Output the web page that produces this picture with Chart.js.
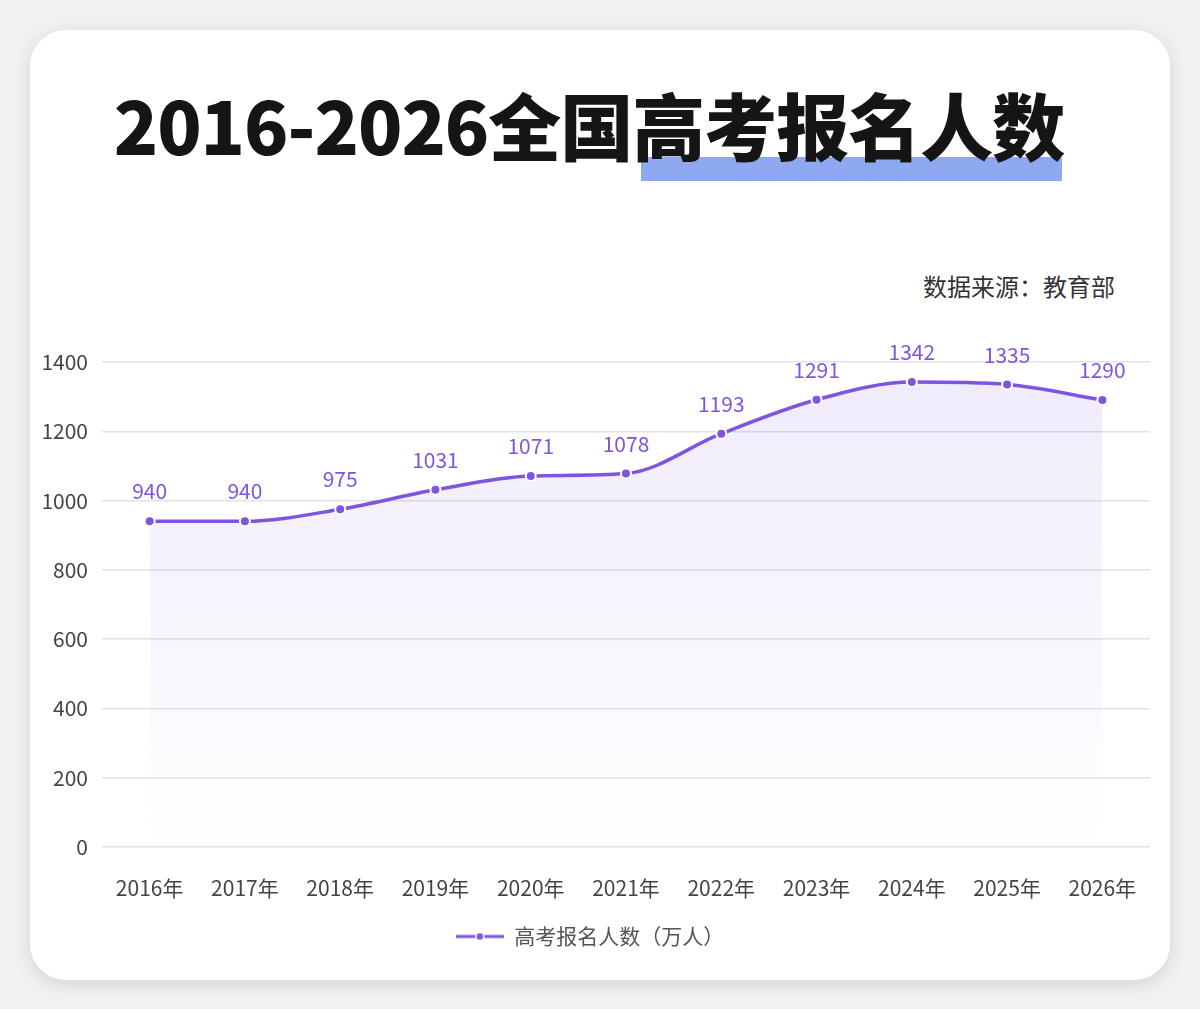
<!DOCTYPE html>
<html><head><meta charset="utf-8">
<script src="https://cdn.jsdelivr.net/npm/chart.js@4"></script>
<style>
html,body{margin:0;padding:0;width:1200px;height:1009px;background:#f1f1f1;overflow:hidden;font-family:"Noto Sans CJK SC","Noto Sans",sans-serif;}
#card{position:absolute;left:30px;top:30px;width:1140px;height:950px;background:#fff;border-radius:36px;box-shadow:0 4px 18px rgba(0,0,0,0.12);}
#bar{position:absolute;left:641px;top:157px;width:421px;height:24px;background:#8fa8f2;}
#title{position:absolute;left:0;top:68px;width:1178px;text-align:center;font-size:73px;font-weight:900;color:#151515;line-height:110px;letter-spacing:-1px;white-space:nowrap;}
#source{position:absolute;right:85px;top:268px;font-size:24px;color:#333;}
#wrap{position:absolute;left:30px;top:250px;width:1140px;height:720px;}
</style></head>
<body>
<div id="card"></div>
<div id="bar"></div>
<div id="title">2016-2026全国高考报名人数</div>
<div id="source">数据来源：教育部</div>
<div id="wrap"><canvas id="c" width="1140" height="720"></canvas></div>
<script>
const categories = ["2016年","2017年","2018年","2019年","2020年","2021年","2022年","2023年","2024年","2025年","2026年"];
const seriesName = "高考报名人数（万人）";
const values = [940,940,975,1031,1071,1078,1193,1291,1342,1335,1290];
const yTicks = [0,200,400,600,800,1000,1200,1400];

const purple = "#7d55e0";
const FONT = '"Noto Sans CJK SC","Noto Sans",sans-serif';

// legend marker: line with dot
const mk = document.createElement('canvas');
mk.width = 48; mk.height = 12;
(function(){const g=mk.getContext('2d');g.strokeStyle=purple;g.lineWidth=3;g.beginPath();g.moveTo(0,6);g.lineTo(48,6);g.stroke();g.fillStyle=purple;g.beginPath();g.arc(24,6,4,0,Math.PI*2);g.fill();g.strokeStyle='#fff';g.lineWidth=1.5;g.stroke();})();

const labelPlugin = {
  id:'valueLabels',
  afterDatasetsDraw(chart){
    const ctx = chart.ctx;
    const meta = chart.getDatasetMeta(0);
    ctx.save();
    ctx.font = '21px ' + FONT;
    ctx.fillStyle = purple;
    ctx.textAlign = 'center';
    ctx.textBaseline = 'middle';
    meta.data.forEach((pt,i)=>{
      ctx.fillText(String(chart.data.datasets[0].data[i]), pt.x, pt.y - 30);
    });
    ctx.restore();
  }
};

new Chart(document.getElementById('c'),{
  type:'line',
  data:{labels:categories,datasets:[{
    label:seriesName,
    data:values,
    borderColor:purple,
    borderWidth:3.5,
    cubicInterpolationMode:'monotone',
    fill:'origin',
    backgroundColor:(ctx)=>{
      const ca = ctx.chart.chartArea;
      if(!ca) return 'rgba(125,85,224,0.08)';
      const g = ctx.chart.ctx.createLinearGradient(0,ca.top,0,ca.bottom);
      g.addColorStop(0,'rgba(125,85,224,0.12)');
      g.addColorStop(1,'rgba(125,85,224,0.0)');
      return g;
    },
    pointRadius:5,
    pointBackgroundColor:purple,
    pointBorderColor:'#fff',
    pointBorderWidth:2,
    pointStyle:'circle'
  }]},
  options:{
    responsive:false,animation:false,
    layout:{padding:{top:112,right:20,left:0,bottom:13}},
    plugins:{
      legend:{position:'bottom',
        labels:{usePointStyle:true,pointStyle:mk,pointStyleWidth:48,color:'#555',font:{family:FONT,size:21},padding:14,
          generateLabels:(chart)=>[{text:seriesName,pointStyle:mk,fillStyle:purple,strokeStyle:purple,lineWidth:0,fontColor:'#555',datasetIndex:0}]}},
      tooltip:{enabled:false}
    },
    scales:{
      x:{offset:true,grid:{display:false},border:{display:false},
        afterFit:(s)=>{s.height=65;},
        ticks:{color:'#444',font:{family:FONT,size:21},padding:20,maxRotation:0}},
      y:{min:0,max:1400,afterBuildTicks:(s)=>{s.ticks=yTicks.map(v=>({value:v}));},
        afterFit:(s)=>{s.width=72;},
        grid:{color:'#e2e2e2',lineWidth:1.5,drawTicks:false},border:{display:false},
        ticks:{color:'#444',font:{family:FONT,size:21},padding:14,callback:(v)=>String(v)}}
    }
  },
  plugins:[labelPlugin]
});
</script>
</body></html>
